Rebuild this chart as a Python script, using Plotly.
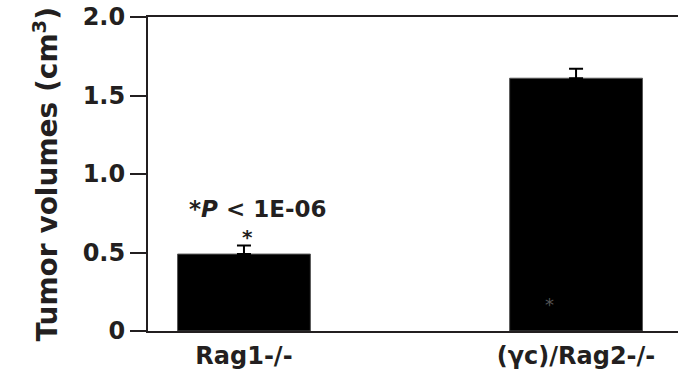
import plotly.graph_objects as go

categories = ["Rag1-/-", "(γc)/Rag2-/-"]
tumor_volume = [0.49, 1.61]
error_upper = [0.055, 0.06]
y_ticks = [0, 0.5, 1.0, 1.5, 2.0]
y_ticktext = ["0", "0.5", "1.0", "1.5", "2.0"]

FONT = "DejaVu Sans"
INK = "#231f20"
x_pos = list(range(len(categories)))

fig = go.Figure()
fig.add_trace(go.Bar(
    x=x_pos, y=tumor_volume, width=0.4,
    marker=dict(color="black", line=dict(color="#555", width=1)),
    error_y=dict(type="data", array=error_upper, arrayminus=[0, 0], symmetric=False,
                 color="black", thickness=2, width=7),
    showlegend=False,
))

fig.add_annotation(x=0.04, y=0.775, text="<b>*<i>P</i> &lt; 1E-06</b>", showarrow=False,
                   font=dict(family=FONT, size=23, color=INK))
fig.add_annotation(x=0.01, y=0.60, text="<b>*</b>", showarrow=False,
                   font=dict(family=FONT, size=20, color=INK))
fig.add_annotation(x=0.92, y=0.17, text="*", showarrow=False,
                   font=dict(family=FONT, size=18, color="#555"))
fig.add_annotation(xref="paper", yref="paper", x=-0.232, y=0.5, textangle=-90,
                   text="<b>Tumor volumes (cm<sup>3</sup>)</b>", showarrow=False,
                   font=dict(family=FONT, size=28, color=INK))

fig.update_layout(
    width=678, height=388,
    margin=dict(l=148, r=0, t=17, b=57, autoexpand=False),
    paper_bgcolor="white", plot_bgcolor="white",
    font=dict(family=FONT, color=INK),
    xaxis=dict(range=[-0.289, 1.307], tickvals=x_pos, ticktext=[f"<b>{c}</b>" for c in categories],
               showline=True, linecolor=INK, linewidth=2, mirror=True,
               ticks="outside", ticklen=2, tickcolor="rgba(0,0,0,0)",
               tickfont=dict(family=FONT, size=24, color=INK),
               showgrid=False, zeroline=False, fixedrange=True, automargin=False),
    yaxis=dict(range=[0, 2], tickvals=y_ticks, ticktext=[f"<b>{t}</b>" for t in y_ticktext],
               showline=True, linecolor=INK, linewidth=2,
               ticks="outside", ticklen=16, tickwidth=2, tickcolor=INK,
               tickfont=dict(family=FONT, size=24, color=INK),
               ticklabeloverflow="allow",
               showgrid=False, zeroline=False, fixedrange=True, automargin=False),
)

# remove the browser's default 8px body margin so the figure fills the window
fig.write_html("out.html", config={"displayModeBar": False},
               post_script="document.body.style.margin='0px';")
